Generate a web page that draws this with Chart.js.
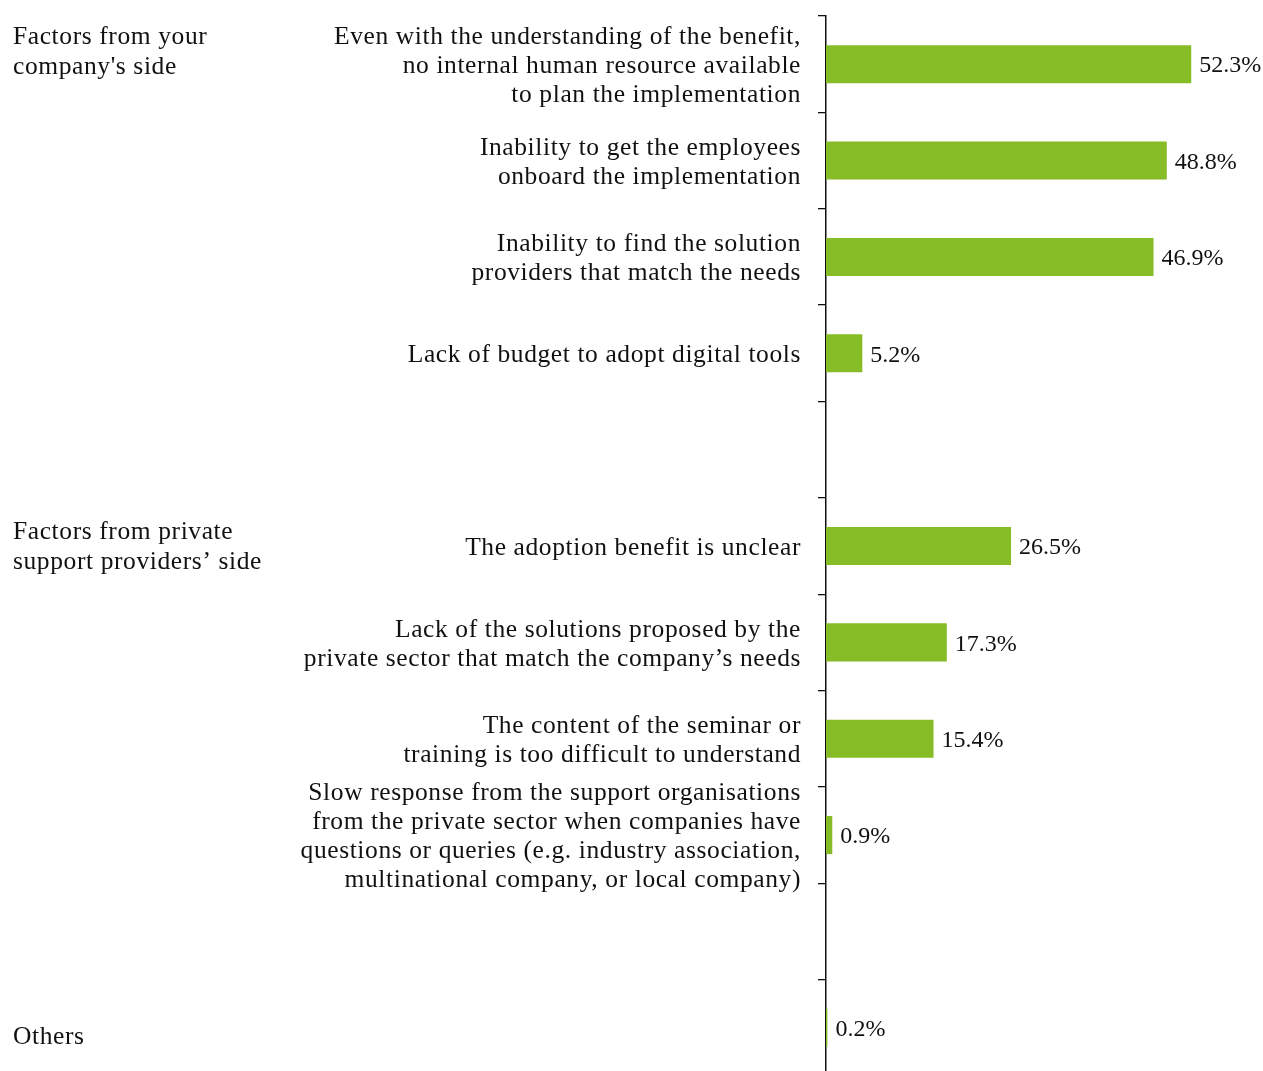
<!DOCTYPE html>
<html>
<head>
<meta charset="utf-8">
<script src="https://cdn.jsdelivr.net/npm/chart.js@4.4.1/dist/chart.umd.min.js"></script>
<style>
  html, body { margin: 0; padding: 0; background: #fff; overflow: hidden; }
  #wrap { width: 1263px; height: 1080px; position: relative; }
</style>
</head>
<body>
<div id="wrap"><canvas id="barriers"></canvas></div>
<script>
// barrier categories (empty strings are the gaps between groups)
const categories = [
  ["Even with the understanding of the benefit,", "no internal human resource available", "to plan the implementation"],
  ["Inability to get the employees", "onboard the implementation"],
  ["Inability to find the solution", "providers that match the needs"],
  "Lack of budget to adopt digital tools",
  "",
  "The adoption benefit is unclear",
  ["Lack of the solutions proposed by the", "private sector that match the company\u2019s needs"],
  ["The content of the seminar or", "training is too difficult to understand"],
  ["Slow response from the support organisations", "from the private sector when companies have", "questions or queries (e.g. industry association,", "multinational company, or local company)"],
  "",
  ""
];

// share of respondents, %
const values = [52.3, 48.8, 46.9, 5.2, null, 26.5, 17.3, 15.4, 0.9, null, 0.2];

// group headings and the row each one sits against
const groupNames = [
  ["Factors from your", "company's side"],
  ["Factors from private", "support providers\u2019 side"],
  ["Others"]
];
const groupRows = [0, 5, 10];

const FONT = '"Liberation Serif", "Times New Roman", serif';
const FONT_SIZE = 25.5;
const SPACING = '0.6px';
const GREEN = '#86bc25';

// slightly looser tracking for every text drawn on the canvas
const tracking = {
  id: 'tracking',
  beforeDraw(chart) { chart.ctx.letterSpacing = SPACING; }
};

// value text to the right of each bar
const valueLabels = {
  id: 'valueLabels',
  afterDatasetsDraw(chart) {
    const ctx = chart.ctx;
    const meta = chart.getDatasetMeta(0);
    ctx.save();
    ctx.letterSpacing = '0px';
    ctx.font = '24px ' + FONT;
    ctx.fillStyle = '#111';
    ctx.textAlign = 'left';
    ctx.textBaseline = 'middle';
    meta.data.forEach((bar, i) => {
      const v = values[i];
      if (v == null) return;
      ctx.fillText(v.toFixed(1) + '%', bar.x + 8, bar.y + 2);
    });
    ctx.restore();
  }
};

// group headings on the far left
const groupLabels = {
  id: 'groupLabels',
  afterDraw(chart) {
    const ctx = chart.ctx;
    const y = chart.scales.y;
    const lh = 30;
    ctx.save();
    ctx.letterSpacing = SPACING;
    ctx.font = FONT_SIZE + 'px ' + FONT;
    ctx.fillStyle = '#111';
    ctx.textAlign = 'left';
    ctx.textBaseline = 'middle';
    groupNames.forEach((lines, g) => {
      const c = y.getPixelForValue(groupRows[g]);
      let top;
      if (g === 0) top = c - 27;                   // lines up with the first row's top line
      else if (g === 2) top = c + 9;
      else top = c - (lines.length - 1) * lh / 2 + 1;
      lines.forEach((t, k) => ctx.fillText(t, 13, top + k * lh));
    });
    ctx.restore();
  }
};

new Chart('barriers', {
  type: 'bar',
  data: {
    labels: categories,
    datasets: [{
      data: values,
      backgroundColor: GREEN,
      borderWidth: 0,
      categoryPercentage: 1,
      barPercentage: 0.395
    }]
  },
  options: {
    indexAxis: 'y',
    responsive: true,
    maintainAspectRatio: false,
    animation: false,
    layout: { padding: { top: 16, bottom: 4, left: 0, right: 18 } },
    plugins: {
      legend: { display: false },
      tooltip: { enabled: false }
    },
    scales: {
      x: {
        display: false,
        min: 0,
        max: 60
      },
      y: {
        afterFit(scale) {
          scale.width = 826;
          scale.paddingTop = 0;
          scale.paddingBottom = 0;
        },
        grid: {
          offset: true,
          drawOnChartArea: false,
          drawTicks: true,
          tickLength: 8,
          color: '#111',
          lineWidth: 1.3
        },
        border: { display: true, color: '#111', width: 1.5 },
        ticks: {
          autoSkip: false,
          padding: 17,
          labelOffset: 2,
          color: '#111',
          font: { family: FONT, size: FONT_SIZE, lineHeight: 1.14 }
        }
      }
    }
  },
  plugins: [tracking, valueLabels, groupLabels]
});
</script>
</body>
</html>
